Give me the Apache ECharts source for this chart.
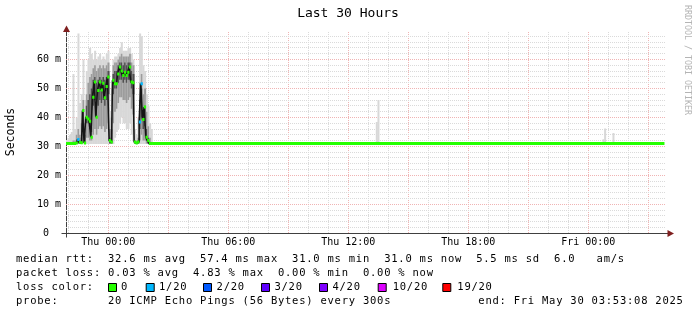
<!DOCTYPE html>
<html><head><meta charset="utf-8">
<script src="https://cdn.jsdelivr.net/npm/echarts@6/dist/echarts.min.js"></script>
<style>html,body{margin:0;padding:0;background:#fff}#c{width:697px;height:315px}</style>
</head><body><div id="c"></div>
<script>
// ---------------- data ----------------
const chartTitle = 'Last 30 Hours';
const yAxisName = 'Seconds';
const sideText = 'RRDTOOL / TOBI OETIKER';
const axisStart = '2025-05-28 21:53:08';
const axisEnd = '2025-05-30 03:53:08';
const xLabelTimes = ['2025-05-29 00:00','2025-05-29 06:00','2025-05-29 12:00','2025-05-29 18:00','2025-05-30 00:00'];
const yLabelValues = [0, 10, 20, 30, 40, 50, 60];
const yMax = 69.5;

// busy period, one sample every 300 s starting at activeStart
const activeStart = '2025-05-28 21:55';
const stepSeconds = 300;
const medianVals = [31.0,31.0,31.0,31.0,31.0,31.0,31.2,32.4,31.4,31.3,
                    42.4,31.2,40.1,39.5,38.7,33.2,47.0,52.2,40.1,49.3,
                    52.2,49.5,51.8,46.8,50.7,54.0,32.0,31.5,52.8,51.6,
                    51.6,55.0,57.4,56.0,54.5,55.6,54.5,55.6,57.4,52.2,
                    52.0,31.5,31.2,31.5,38.4,51.6,39.3,43.6,33.2,32.0,
                    31.0,31.0];
const lossVals = [0,0,0,0,0,0,0,1,0,0,
                  0,0,0,0,0,0,0,0,0,0,
                  0,0,0,0,0,0,0,0,0,0,
                  0,0,0,0,0,0,0,0,0,0,
                  0,0,0,0,1,1,0,0,0,0,
                  0,0];
// smoke: spread of the 20 pings of each sample
const smokeMin = [30.8,30.8,30.8,30.8,30.8,30.8,30.8,30.8,30.8,30.8,
                  30.8,30.8,30.8,30.8,30.8,30.8,30.8,30.8,30.8,30.8,
                  30.8,30.8,30.8,30.8,30.8,30.8,30.8,30.8,30.8,33,
                  35,36,38,40,38,38,36,36,38,34,
                  32,30.8,30.8,30.8,30.8,30.8,30.8,30.8,30.8,30.8,
                  30.8,30.8];
const smokeLo = [31,31,31,31,31,31,31,31,31,31,
                 32,31,33,33,32,32,34,36,34,36,
                 37,36,37,35,36,38,31,31,38,42,
                 43,45,47,47,46,46,45,46,47,43,
                 41,31,31,31,32,34,32,32,31,31,
                 31,31];
const smokeCoreLo = [31,31,31,31,31,31,31,31,31,31,
                     36,31,38,38,36,35,44,46,40,44,
                     46,45,46,44,46,48,31,31,48,50,
                     50,52,53,53,52,53,52,53,53,50,
                     48,31,31,31,36,40,36,37,32,31,
                     31,31];
const smokeCoreHi = [31,31,31,31,31,31,31.5,32,32,33,
                     42,34,44,46,48,50,53,54,52,53,
                     54,53,54,53,54,56,33,36,55,56,
                     56,58,59,59,58,59,58,59,59,56,
                     55,31.5,31.5,32,46,50,42,44,36,33,
                     31.5,31];
const smokeHi = [31.3,31.3,31.5,31.5,32,32,34,36,34,38,
                 46,38,48,52,54,55,57,58,56,57,
                 58,57,58,57,58,59,36,40,58,59,
                 59,60,61,62,61,61,61,61,62,59,
                 58,32,32,33,52,55,48,50,42,37,
                 33,31.5];
const smokeMax = [32,33,34,35,55,36,40,69,45,48,
                  60,46,56,60,64,62,60,63,60,61,
                  62,60,61,60,62,63,42,50,60,61,
                  61,62,64,66,63,63,63,64,64,62,
                  60,36,34,40,69,68,58,56,48,44,
                  38,36];
const flatMedian = 31.0;
const flatLoss = 0;
const flatEnd = '2025-05-30 03:45';
const spikeTimes = ['2025-05-29 13:25','2025-05-29 13:30','2025-05-30 00:45','2025-05-30 00:50','2025-05-30 01:15'];
const spikeMin = [30.8,30.8,30.8,30.8,30.8];
const spikeMax = [38.4,46.0,32.5,36.2,34.6];

const lossSteps = [0, 1, 2, 3, 4, 10, 19];
const lossLabels = ['0','1/20','2/20','3/20','4/20','10/20','19/20'];
const lossColors = ['#26ff00','#00b8ff','#0059ff','#5e00ff','#7e00ff','#dd00ff','#ff0000'];

const legendLine1 = 'median rtt:  32.6 ms avg  57.4 ms max  31.0 ms min  31.0 ms now  5.5 ms sd  6.0   am/s';
const legendLine2 = 'packet loss: 0.03 % avg  4.83 % max  0.00 % min  0.00 % now';
const legendLine3 = 'loss color:';
const legendLine4 = 'probe:       20 ICMP Echo Pings (56 Bytes) every 300s';
const legendEnd = 'end: Fri May 30 03:53:08 2025';

// ---------------- helpers ----------------
function T(s) {
  const m = s.match(/(\d+)-(\d+)-(\d+) (\d+):(\d+)(?::(\d+))?/);
  return Date.UTC(+m[1], +m[2] - 1, +m[3], +m[4], +m[5], +(m[6] || 0));
}
const pad = n => (n < 10 ? '0' : '') + n;
const DAYS = ['Sun','Mon','Tue','Wed','Thu','Fri','Sat'];
function lossColor(n) {
  let c = lossColors[0];
  for (let i = 0; i < lossSteps.length; i++) if (n >= lossSteps[i]) c = lossColors[i];
  return c;
}
const HALF = stepSeconds * 500;
const t0 = T(activeStart);
const tStart = T(axisStart), tEnd = T(axisEnd);

const smokeData = [];
const medianSeg = [];
const medianLine = [];
medianVals.forEach((v, i) => {
  const t = t0 + i * stepSeconds * 1000;
  smokeData.push([t, smokeMin[i], smokeLo[i], smokeCoreLo[i], smokeCoreHi[i], smokeHi[i], smokeMax[i]]);
  medianSeg.push([t - HALF, v, t + HALF, lossVals[i]]);
  medianLine.push([t, v]);
});
spikeTimes.forEach((s, i) => smokeData.push([T(s), spikeMin[i], spikeMin[i], spikeMin[i], spikeMin[i], spikeMin[i], spikeMax[i]]));
const lastActive = t0 + (medianVals.length - 1) * stepSeconds * 1000;
medianSeg.push([lastActive + HALF, flatMedian, T(flatEnd) + HALF, flatLoss]);

// grid lines: vertical every hour (major every 3h), horizontal every 2 ms (major every 10)
const gridData = [];
for (let t = Math.ceil(tStart / 3600000) * 3600000; t <= tEnd; t += 3600000) {
  const h = new Date(t).getUTCHours();
  gridData.push([t, 0, h % 3 === 0 ? 1 : 0, 0]);
}
for (let v = 2; v <= 68; v += 2) gridData.push([tStart, v, v % 10 === 0 ? 1 : 0, 1]);
gridData.push([tStart, yMax, 0, 1]);

function renderGrid(params, api) {
  const cs = params.coordSys;
  const major = api.value(2), dir = api.value(3);
  let shape;
  if (dir === 0) {
    const x = Math.round(api.coord([api.value(0), 0])[0]) + 0.5;
    shape = { x1: x, y1: cs.y, x2: x, y2: cs.y + cs.height };
  } else {
    const y = Math.floor(api.coord([tStart, api.value(1)])[1]) + 0.5;
    shape = { x1: cs.x, y1: y, x2: cs.x + cs.width, y2: y };
  }
  return { type: 'line', shape, style: { stroke: major ? '#f0b4b4' : '#dadada', lineWidth: 1, lineDash: [1, 1] } };
}
function band(x, w, yA, yB, fill) {
  return { type: 'rect', shape: { x: x, y: yB, width: w, height: Math.max(0, yA - yB) }, style: { fill: fill } };
}
function renderSmoke(params, api) {
  const t = api.value(0);
  const x0 = api.coord([t - HALF, 0])[0];
  const x1 = api.coord([t + HALF, 0])[0];
  const Y = k => api.coord([t, api.value(k)])[1];
  const w = x1 - x0 + 0.35;
  return { type: 'group', children: [
    band(x0, w, Y(1), Y(6), '#d8d8d8'),
    band(x0, w, Y(2), Y(5), '#9c9c9c'),
    band(x0, w, Y(3), Y(4), '#505050')
  ]};
}
function renderMedian(params, api) {
  const a = api.coord([api.value(0), api.value(1)]);
  const b = api.coord([api.value(2), api.value(1)]);
  return { type: 'rect', shape: { x: a[0] - 0.25, y: a[1] - 1.5, width: b[0] - a[0] + 0.6, height: 3 },
           style: { fill: lossColor(api.value(3)) } };
}

// text graphics
const MONO = '"DejaVu Sans Mono", monospace';
function monoText(str, x, y, pitch, size, color) {
  const out = [];
  for (let i = 0; i < str.length; i++) {
    const ch = str[i];
    if (ch === ' ') continue;
    out.push({ type: 'text', x: x + i * pitch, y: y, z: 100, silent: true,
      style: { text: ch, font: size + 'px ' + MONO, fill: color || '#000', textAlign: 'left', textVerticalAlign: 'middle', align: 'left', verticalAlign: 'middle' } });
  }
  return out;
}
const P = 7.08, LX = 16, FS = 10.5;
let graphics = [];
graphics = graphics.concat(monoText(legendLine1, LX, 259.5, P, FS));
graphics = graphics.concat(monoText(legendLine2, LX, 273.5, P, FS));
graphics = graphics.concat(monoText(legendLine3, LX, 287.5, P, FS));
graphics = graphics.concat(monoText(legendLine4, LX, 301.5, P, FS));
graphics = graphics.concat(monoText(legendEnd, 478.3, 301.5, P, FS));
const boxX = [108, 145.7, 203, 261, 319, 377.7, 442.3];
const boxTextX = [121, 159, 216.6, 274.4, 332.4, 392.7, 457.3];
lossLabels.forEach((lab, i) => {
  graphics.push({ type: 'rect', z: 100, silent: true, shape: { x: boxX[i] + 0.5, y: 283.5, width: 8, height: 8 },
    style: { fill: lossColors[i], stroke: '#000', lineWidth: 1 } });
  graphics = graphics.concat(monoText(lab, boxTextX[i], 287.5, P, FS));
});
graphics.push({ type: 'text', x: 348, y: 14, z: 100, silent: true,
  style: { text: chartTitle, font: '13px ' + MONO, fill: '#000', textAlign: 'center', textVerticalAlign: 'middle', align: 'center', verticalAlign: 'middle' } });
graphics.push({ type: 'text', x: 11, y: 132, rotation: Math.PI / 2, z: 100, silent: true,
  style: { text: yAxisName, font: '11.5px ' + MONO, fill: '#000', textAlign: 'center', textVerticalAlign: 'middle', align: 'center', verticalAlign: 'middle' } });
graphics.push({ type: 'text', x: 687, y: 5, rotation: -Math.PI / 2, z: 100, silent: true,
  style: { text: sideText, font: '8.3px ' + MONO, fill: '#b4b4b4', textAlign: 'left', textVerticalAlign: 'middle', align: 'left', verticalAlign: 'middle' } });
// axis extensions and arrows
graphics.push({ type: 'line', z: 90, silent: true, shape: { x1: 61.5, y1: 233.5, x2: 66, y2: 233.5 }, style: { stroke: '#404040', lineWidth: 1 } });
graphics.push({ type: 'line', z: 90, silent: true, shape: { x1: 666, y1: 233.5, x2: 669, y2: 233.5 }, style: { stroke: '#404040', lineWidth: 1 } });
graphics.push({ type: 'line', z: 90, silent: true, shape: { x1: 66.5, y1: 31, x2: 66.5, y2: 33 }, style: { stroke: '#404040', lineWidth: 1 } });
graphics.push({ type: 'line', z: 90, silent: true, shape: { x1: 66.5, y1: 233, x2: 66.5, y2: 237.5 }, style: { stroke: '#404040', lineWidth: 1 } });
graphics.push({ type: 'polygon', z: 91, silent: true, shape: { points: [[66.5, 25.5], [63, 32], [70, 32]] }, style: { fill: '#7f1f1f' } });
graphics.push({ type: 'polygon', z: 91, silent: true, shape: { points: [[674, 233.5], [667.5, 230], [667.5, 237]] }, style: { fill: '#7f1f1f' } });

// ---------------- chart ----------------
const chart = echarts.init(document.getElementById('c'), null, { renderer: 'canvas' });
chart.setOption({
  animation: false,
  backgroundColor: '#ffffff',
  grid: { left: 66, top: 32, width: 600, height: 201.3, containLabel: false },
  xAxis: {
    type: 'value', min: tStart, max: tEnd,
    axisLine: { show: true, lineStyle: { color: '#404040', width: 1 } },
    axisTick: { show: false },
    splitLine: { show: false },
    axisLabel: {
      customValues: xLabelTimes.map(T),
      margin: 4,
      color: '#000',
      fontFamily: 'DejaVu Sans Mono', fontSize: 10,
      formatter: v => { const d = new Date(v); return DAYS[d.getUTCDay()] + ' ' + pad(d.getUTCHours()) + ':' + pad(d.getUTCMinutes()); }
    }
  },
  yAxis: {
    type: 'value', min: 0, max: yMax,
    axisLine: { show: true, lineStyle: { color: '#404040', width: 1 } },
    axisTick: { show: false },
    splitLine: { show: false },
    axisLabel: {
      customValues: yLabelValues,
      margin: 5,
      color: '#000',
      fontFamily: 'DejaVu Sans Mono', fontSize: 10,
      formatter: v => v === 0 ? '0  ' : v + ' m'
    }
  },
  graphic: graphics,
  series: [
    { type: 'custom', name: 'grid', z: 1, silent: true, clip: true, renderItem: renderGrid, data: gridData, encode: { x: 0, y: 1 } },
    { type: 'custom', name: 'smoke', z: 2, silent: true, clip: true, renderItem: renderSmoke, data: smokeData, encode: { x: 0, y: [1, 6] } },
    { type: 'line', name: 'median step', z: 3, silent: true, step: 'middle', showSymbol: false, data: medianLine,
      lineStyle: { color: '#151515', width: 1.6 } },
    { type: 'custom', name: 'median', z: 4, silent: true, clip: true, renderItem: renderMedian, data: medianSeg, encode: { x: [0, 2], y: 1 } }
  ]
});
</script>
</body></html>
